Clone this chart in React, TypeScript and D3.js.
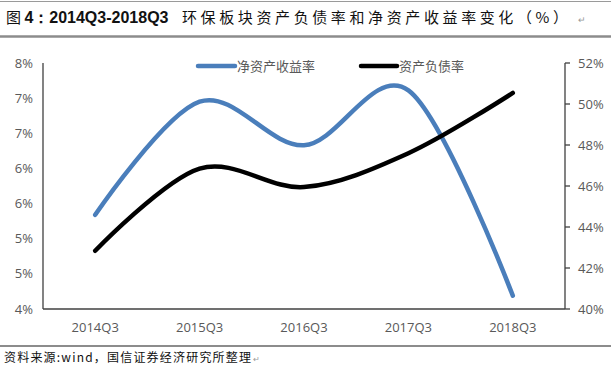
import React from "react";
import * as d3 from "d3";

const categories = ["2014Q3", "2015Q3", "2016Q3", "2017Q3", "2018Q3"];
const roe = [5.34, 6.95, 6.33, 7.11, 4.19];
const debtRatio = [42.84, 46.85, 45.95, 47.6, 50.54];
const leftTicks = [4, 4.5, 5, 5.5, 6, 6.5, 7, 7.5];
const rightTicks = [40, 42, 44, 46, 48, 50, 52];
const seriesNames = ["净资产收益率", "资产负债率"];
const titleLead = "图 ";
const titleBold = "4：2014Q3-2018Q3";
const titleRest = "环保板块资产负债率和净资产收益率变化（%）";
const footerText = "资料来源:wind，国信证券经济研究所整理";

const W = 611;
const H = 373;
const left = 43;
const right = 565;
const top = 63;
const bottom = 309;

const BLUE = "#4A7EBB";
const GREY = "#595959";
const NUMFONT = "'Open Sans', 'Noto Sans', sans-serif";
const CJK = "'Noto Sans CJK SC', sans-serif";

export default function App() {
  const x = d3.scaleBand<string>().domain(categories).range([left, right]).padding(0);
  const yL = d3.scaleLinear().domain([4, 7.5]).range([bottom, top]);
  const yR = d3.scaleLinear().domain([40, 52]).range([bottom, top]);
  const cx = (c: string) => (x(c) as number) + x.bandwidth() / 2;

  const lineL = d3
    .line<number>()
    .x((_, i) => cx(categories[i]))
    .y((d) => yL(d))
    .curve(d3.curveCardinal.tension(0));
  const lineR = d3
    .line<number>()
    .x((_, i) => cx(categories[i]))
    .y((d) => yR(d))
    .curve(d3.curveCardinal.tension(0));

  const fmtL = (v: number) => `${Math.round(v)}%`;

  return (
    <svg
      width={W}
      height={H}
      style={{ position: "absolute", left: 0, top: 0, background: "#fff" }}
    >
      {/* title */}
      <line x1={0} x2={W} y1={1.5} y2={1.5} stroke="#9a9a9a" strokeWidth={1} />
      <text x={6} y={23} fontSize={15} fill="#111">
        <tspan fontFamily={CJK}>{titleLead}</tspan>
        <tspan fontFamily="'Liberation Sans', Arial, sans-serif" fontWeight="bold" fontSize={16}>
          {titleBold}
        </tspan>
      </text>
      <text
        x={182}
        y={23}
        fontSize={15}
        fontFamily={CJK}
        fill="#111"
        textLength={386}
        lengthAdjust="spacing"
      >
        {titleRest}
      </text>
      <text x={578} y={23} fontSize={9} fill="#999" fontFamily={CJK}>↵</text>
      <line x1={0} x2={W} y1={36.5} y2={36.5} stroke="#8c8c8c" strokeWidth={2.5} />

      {/* axes */}
      <line x1={left} x2={left} y1={top} y2={bottom} stroke="#404040" strokeWidth={1.3} />
      <line x1={right} x2={right} y1={top} y2={bottom} stroke="#404040" strokeWidth={1.3} />
      <line x1={left} x2={right} y1={bottom} y2={bottom} stroke="#404040" strokeWidth={1.3} />

      {leftTicks.map((t) => (
        <text
          key={"l" + t}
          x={33}
          y={yL(t)}
          dy="0.35em"
          textAnchor="end"
          fontSize={13}
          fontFamily={NUMFONT}
          fill={GREY}
        >
          {fmtL(t)}
        </text>
      ))}
      {rightTicks.map((t) => (
        <g key={"r" + t}>
          <line x1={right} x2={right + 5} y1={yR(t)} y2={yR(t)} stroke="#404040" strokeWidth={1.3} />
          <text
            x={578}
            y={yR(t)}
            dy="0.35em"
            textAnchor="start"
            fontSize={13}
            fontFamily={NUMFONT}
            fill={GREY}
          >
            {t}%
          </text>
        </g>
      ))}
      {categories.map((c) => (
        <text
          key={c}
          x={cx(c)}
          y={327}
          dy="0.35em"
          textAnchor="middle"
          fontSize={13}
          fontFamily={NUMFONT}
          fill={GREY}
        >
          {c}
        </text>
      ))}

      {/* series */}
      <path d={lineL(roe) || ""} fill="none" stroke={BLUE} strokeWidth={4.5} strokeLinecap="round" />
      <path d={lineR(debtRatio) || ""} fill="none" stroke="#000" strokeWidth={4.5} strokeLinecap="round" />

      {/* legend */}
      <line x1={198} x2={235} y1={66} y2={66} stroke={BLUE} strokeWidth={4.5} strokeLinecap="round" />
      <text x={237} y={66} dy="0.35em" fontSize={13} fontFamily={CJK} fill={GREY}>
        {seriesNames[0]}
      </text>
      <line x1={361} x2={397} y1={66} y2={66} stroke="#000" strokeWidth={4.5} strokeLinecap="round" />
      <text x={399} y={66} dy="0.35em" fontSize={13} fontFamily={CJK} fill={GREY}>
        {seriesNames[1]}
      </text>

      {/* footer */}
      <line x1={0} x2={W} y1={346} y2={346} stroke="#8c8c8c" strokeWidth={2} />
      <text
        x={4}
        y={362}
        fontSize={12}
        fontFamily={CJK}
        fill="#111"
        textLength={247}
        lengthAdjust="spacing"
      >
        {footerText}
      </text>
      <text x={253} y={362} fontSize={8} fill="#999" fontFamily={CJK}>↵</text>
    </svg>
  );
}
